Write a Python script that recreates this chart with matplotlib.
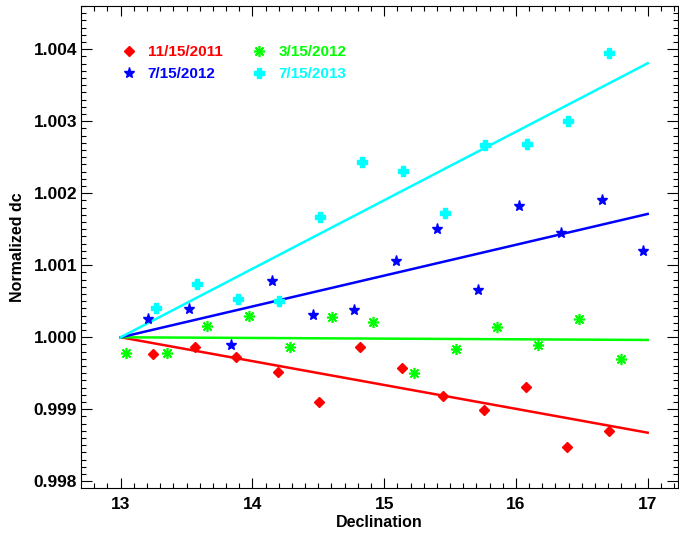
import matplotlib
matplotlib.use('Agg')
import matplotlib.pyplot as plt
from matplotlib.ticker import MultipleLocator

plt.rcParams['font.family'] = ['Liberation Sans', 'DejaVu Sans']
plt.rcParams['font.weight'] = 'bold'
plt.rcParams['axes.labelweight'] = 'bold'

# data
dec_2011 = [13.247, 13.564, 13.875, 14.192, 14.503, 14.819, 15.133, 15.449, 15.760, 16.074, 16.390, 16.704]
dc_2011 = [0.999764, 0.999865, 0.999731, 0.999522, 0.999106, 0.999865, 0.999569, 0.999189, 0.998990, 0.999306, 0.998481, 0.998699]

dec_2012a = [13.038, 13.349, 13.657, 13.976, 14.287, 14.601, 14.913, 15.228, 15.543, 15.854, 16.170, 16.481, 16.795]
dc_2012a = [0.999786, 0.999778, 1.000157, 1.000296, 0.999861, 1.000286, 1.000213, 0.999508, 0.999833, 1.000147, 0.999889, 1.000254, 0.999699]

dec_2012b = [13.209, 13.521, 13.835, 14.148, 14.462, 14.773, 15.087, 15.403, 15.710, 16.025, 16.342, 16.653, 16.967]
dc_2012b = [1.000250, 1.000397, 0.999893, 1.000786, 1.000306, 1.000375, 1.001060, 1.001508, 1.000653, 1.001828, 1.001449, 1.001907, 1.001199]

dec_2013 = [13.266, 13.577, 13.890, 14.204, 14.513, 14.832, 15.143, 15.459, 15.767, 16.084, 16.397, 16.709]
dc_2013 = [1.000407, 1.000740, 1.000528, 1.000508, 1.001675, 1.002435, 1.002314, 1.001731, 1.002671, 1.002689, 1.003004, 1.003944]

# fitted lines (value at 13 and at 17)
fit_x = [13, 17]
fit_2011 = [1.0, 0.998675]
fit_2012a = [1.0, 0.999963]
fit_2012b = [1.0, 1.001713]
fit_2013 = [1.0, 1.003806]

labels = ['11/15/2011', '3/15/2012', '7/15/2012', '7/15/2013']

fig = plt.figure(figsize=(6.79, 5.33), dpi=100)
ax = fig.add_axes([0.1197, 0.085, 0.8788, 0.9037])

ax.plot(fit_x, fit_2011, color='red', lw=1.8)
ax.plot(fit_x, fit_2012a, color='#00ff00', lw=1.8)
ax.plot(fit_x, fit_2012b, color='blue', lw=1.8)
ax.plot(fit_x, fit_2013, color='cyan', lw=1.8)

h1, = ax.plot(dec_2011, dc_2011, 'D', color='red', ms=5.5, ls='none', label=labels[0])
h2, = ax.plot(dec_2012a, dc_2012a, marker=(8, 2, 0), color='#00ff00', ms=8, mew=1.2, ls='none', label=labels[1])
h3, = ax.plot(dec_2012b, dc_2012b, '*', color='blue', ms=8, ls='none', label=labels[2])
h4, = ax.plot(dec_2013, dc_2013, 'P', color='cyan', ms=7, ls='none', label=labels[3])

ax.set_xlim(12.701, 17.23)
ax.set_ylim(0.997911, 1.004601)

ax.xaxis.set_major_locator(MultipleLocator(1))
ax.xaxis.set_minor_locator(MultipleLocator(0.1))
ax.yaxis.set_major_locator(MultipleLocator(0.001))
ax.yaxis.set_minor_locator(MultipleLocator(0.0001))
ax.yaxis.set_major_formatter(plt.FormatStrFormatter('%.3f'))

ax.tick_params(which='both', direction='in', top=True, right=True, width=0.8)
ax.tick_params(axis='x', which='major', length=7, pad=6.5, labelsize=12.5)
ax.tick_params(axis='x', which='minor', length=3.6)
ax.tick_params(axis='y', which='major', length=8, pad=3, labelsize=12.5)
ax.tick_params(axis='y', which='minor', length=3.6)
for s in ax.spines.values():
    s.set_linewidth(0.8)

ax.set_xlabel('Declination', fontsize=11.5, labelpad=2)
ax.set_ylabel('Normalized dc', fontsize=11.5, labelpad=6)

leg = ax.legend(handles=[h1, h3, h2, h4], ncol=2, frameon=False, fontsize=11,
                labelcolor='markeredgecolor', handlelength=1.0, handletextpad=0.75,
                columnspacing=1.9, labelspacing=0.55, borderaxespad=0,
                loc='upper left', bbox_to_anchor=(0.0565, 0.932))

fig.savefig('out.png', dpi=100)
